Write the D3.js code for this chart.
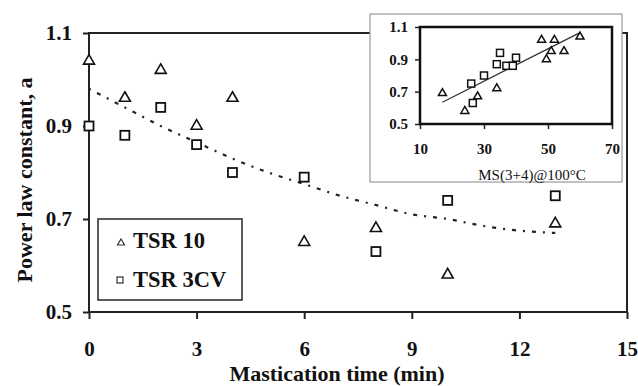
<!DOCTYPE html>
<html>
<head>
<meta charset="utf-8">
<script src="https://cdn.jsdelivr.net/npm/d3@7"></script>
<style>
  html, body { margin: 0; padding: 0; background: #fff; }
  svg { display: block; }
  text { font-family: "Liberation Serif", "Times New Roman", serif; fill: #111; }
</style>
</head>
<body>
<svg id="chart" width="638" height="386"></svg>
<script>
// ---- Data ----
const masticationTime = [0, 1, 2, 3, 4, 6, 8, 10, 13];
const tsr10 = [1.04, 0.96, 1.02, 0.90, 0.96, 0.65, 0.68, 0.58, 0.69];
const tsr3cv = [0.90, 0.88, 0.94, 0.86, 0.80, 0.79, 0.63, 0.74, 0.75];

const trendTime = [0, 1, 2, 3, 4, 5, 6, 7, 8, 9, 10, 11, 12, 13];
const trendA = [0.98, 0.94, 0.90, 0.865, 0.83, 0.80, 0.775, 0.75, 0.73, 0.71, 0.70, 0.685, 0.675, 0.67];

const xTicks = [0, 3, 6, 9, 12, 15];
const yTicks = [0.5, 0.7, 0.9, 1.1];

const legendLabels = ["TSR 10", "TSR 3CV"];

// inset: a vs Mooney viscosity
const insetMs10 = [17, 24, 28, 34, 48, 52, 51, 55, 49.5, 60];
const insetA10 = [0.69, 0.58, 0.67, 0.72, 1.02, 1.02, 0.95, 0.95, 0.90, 1.04];
const insetMs3 = [26, 26.5, 30, 34, 35, 37, 39, 40];
const insetA3 = [0.75, 0.63, 0.80, 0.87, 0.94, 0.86, 0.86, 0.91];
const insetTrendMs = [17, 60];
const insetTrendA = [0.635, 1.065];
const insetXTicks = [10, 30, 50, 70];
const insetYTicks = [0.5, 0.7, 0.9, 1.1];

// ---- Chart ----
const svg = d3.select("#chart");

const x = d3.scaleLinear().domain([0, 15]).range([89, 627]);
const y = d3.scaleLinear().domain([0.5, 1.1]).range([312, 33]);

const triPath = (s) => {
  const h = s * Math.sqrt(3) / 2;
  return `M0,${-h * 2 / 3}L${s / 2},${h / 3}L${-s / 2},${h / 3}Z`;
};

// axes
const yAxis = svg.append("g").attr("transform", "translate(89,0)")
  .call(d3.axisLeft(y).tickValues(yTicks).tickFormat(d3.format(".1f")).tickSize(6).tickPadding(11));
const xAxis = svg.append("g").attr("transform", "translate(0,312)")
  .call(d3.axisBottom(x).tickValues(xTicks).tickFormat(d3.format("d")).tickSize(7).tickPadding(22));
[yAxis, xAxis].forEach(g => {
  g.select(".domain").remove();
  g.selectAll(".tick line").attr("stroke", "#222").attr("stroke-width", 2);
  g.selectAll(".tick text").style("font-family", '"Liberation Serif", serif')
    .style("font-weight", "bold").style("font-size", "21px").attr("fill", "#111");
});

// frame
svg.append("rect").attr("x", x(0)).attr("y", y(1.1))
  .attr("width", x(15) - x(0)).attr("height", y(0.5) - y(1.1))
  .attr("fill", "none").attr("stroke", "#222").attr("stroke-width", 2);

// trend line
svg.append("path")
  .datum(trendTime.map((t, i) => [t, trendA[i]]))
  .attr("d", d3.line().x(d => x(d[0])).y(d => y(d[1])).curve(d3.curveMonotoneX))
  .attr("fill", "none").attr("stroke", "#222").attr("stroke-width", 2.2)
  .attr("stroke-dasharray", "2,7,4,7");

// data markers
svg.append("g").selectAll("path").data(masticationTime.map((t, i) => [t, tsr10[i]]))
  .join("path")
  .attr("d", triPath(11))
  .attr("transform", d => `translate(${x(d[0])},${y(d[1])})`)
  .attr("fill", "#fff").attr("stroke", "#111").attr("stroke-width", 1.6);

svg.append("g").selectAll("rect").data(masticationTime.map((t, i) => [t, tsr3cv[i]]))
  .join("rect")
  .attr("x", d => x(d[0]) - 4.5).attr("y", d => y(d[1]) - 4.5)
  .attr("width", 9).attr("height", 9)
  .attr("fill", "#fff").attr("stroke", "#111").attr("stroke-width", 1.8);

// axis titles
svg.append("text").attr("x", 337).attr("y", 381).attr("text-anchor", "middle")
  .style("font-weight", "bold").style("font-size", "22px").text("Mastication time (min)");
svg.append("text").attr("transform", "translate(32,180) rotate(-90)").attr("text-anchor", "middle")
  .style("font-weight", "bold").style("font-size", "22px").text("Power law constant, a");

// legend
const lg = svg.append("g");
lg.append("rect").attr("x", 98).attr("y", 219).attr("width", 144).attr("height", 81)
  .attr("fill", "#fff").attr("stroke", "#333").attr("stroke-width", 1.6);
lg.append("path").attr("d", triPath(7)).attr("transform", "translate(121,243)")
  .attr("fill", "#fff").attr("stroke", "#333").attr("stroke-width", 1.2);
lg.append("rect").attr("x", 117).attr("y", 277).attr("width", 6).attr("height", 6)
  .attr("fill", "#fff").attr("stroke", "#333").attr("stroke-width", 1.2);
lg.selectAll("text.lab").data(legendLabels).join("text").attr("class", "lab")
  .attr("x", 133).attr("y", (d, i) => 248 + i * 39)
  .style("font-weight", "bold").style("font-size", "22.5px").text(d => d);

// ---- Inset ----
const ins = svg.append("g");
ins.append("rect").attr("x", 370).attr("y", 14).attr("width", 252).attr("height", 168)
  .attr("fill", "#fff").attr("stroke", "#999").attr("stroke-width", 1.2);

const ix = d3.scaleLinear().domain([10, 70]).range([420, 612]);
const iy = d3.scaleLinear().domain([0.5, 1.1]).range([124, 27]);

const iyAxis = ins.append("g").attr("transform", "translate(420,0)")
  .call(d3.axisLeft(iy).tickValues(insetYTicks).tickFormat(d3.format(".1f")).tickSize(5).tickPadding(7));
const ixAxis = ins.append("g").attr("transform", "translate(0,124)")
  .call(d3.axisBottom(ix).tickValues(insetXTicks).tickFormat(d3.format("d")).tickSize(5).tickPadding(14));
[iyAxis, ixAxis].forEach(g => {
  g.select(".domain").remove();
  g.selectAll(".tick line").attr("stroke", "#222").attr("stroke-width", 1.5);
  g.selectAll(".tick text").style("font-family", '"Liberation Serif", serif')
    .style("font-size", "15px").style("font-weight", "bold").attr("fill", "#222");
});

ins.append("rect").attr("x", ix(10)).attr("y", iy(1.1))
  .attr("width", ix(70) - ix(10)).attr("height", iy(0.5) - iy(1.1))
  .attr("fill", "none").attr("stroke", "#111").attr("stroke-width", 2.5);

ins.append("path")
  .datum(insetTrendMs.map((m, i) => [m, insetTrendA[i]]))
  .attr("d", d3.line().x(d => ix(d[0])).y(d => iy(d[1])))
  .attr("fill", "none").attr("stroke", "#333").attr("stroke-width", 1.2);

ins.append("g").selectAll("path").data(insetMs10.map((m, i) => [m, insetA10[i]]))
  .join("path")
  .attr("d", triPath(8))
  .attr("transform", d => `translate(${ix(d[0])},${iy(d[1])})`)
  .attr("fill", "#fff").attr("stroke", "#111").attr("stroke-width", 1.5);

ins.append("g").selectAll("rect").data(insetMs3.map((m, i) => [m, insetA3[i]]))
  .join("rect")
  .attr("x", d => ix(d[0]) - 3.5).attr("y", d => iy(d[1]) - 3.5)
  .attr("width", 7).attr("height", 7)
  .attr("fill", "#fff").attr("stroke", "#111").attr("stroke-width", 1.5);

ins.append("text").attr("x", 532).attr("y", 180).attr("text-anchor", "middle")
  .style("font-size", "15px").attr("fill", "#333").text("MS(3+4)@100°C");
</script>
</body>
</html>
